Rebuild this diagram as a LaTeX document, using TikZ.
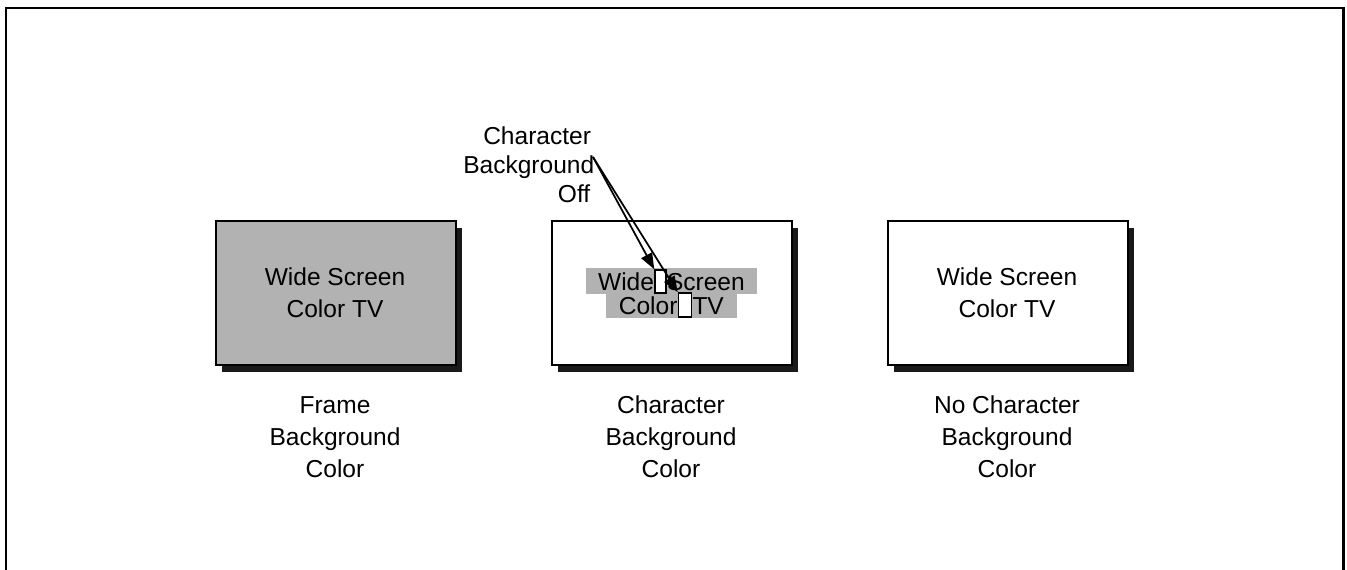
\documentclass[tikz,border=0pt]{standalone}
\usepackage{fontspec}
\setmainfont{Liberation Sans}
\usetikzlibrary{arrows.meta}
\begin{document}
\begin{tikzpicture}[x=0.75pt,y=-0.75pt,
  txt/.style={inner sep=0pt,font=\fontsize{18.4}{24}\selectfont,align=center},
  tvbox/.style={draw=black,line width=1.5pt,minimum width=240*0.75pt,minimum height=144*0.75pt,inner sep=0pt},
  tvshadow/.style={fill=black!90,draw=none,minimum width=240*0.75pt,minimum height=144*0.75pt,inner sep=0pt},
  hilite/.style={fill=black!30,draw=none,inner sep=0pt},
  gap/.style={fill=white,draw=black,line width=1.1pt,inner sep=0pt,minimum width=11*0.75pt,minimum height=23*0.75pt},
  pointer/.style={line width=1.3pt,-{Triangle[length=16*0.75pt,width=12*0.75pt]}}
]
\useasboundingbox (0,0) rectangle (1347,569);
% outer frame
\draw[line width=2.2pt] (6,570) -- (6,8) -- (1343.5,8) -- (1343.5,570);

% box 1
\node[tvshadow] (s1) at (341.5,299.5) {};
\node[tvbox,fill=black!30] (b1) at (335.5,293) {};
\node[txt] (t1) at (335,293) {Wide Screen\\Color TV};
\node[txt] (l1) at (335,437) {Frame\\Background\\Color};

% box 2
\node[tvshadow] (s2) at (677.5,299.5) {};
\node[tvbox,fill=white] (b2) at (671.5,293) {};
\node[hilite,minimum width=171*0.75pt,minimum height=26*0.75pt] (h1) at (671.5,281) {};
\node[hilite,minimum width=131*0.75pt,minimum height=24*0.75pt] (h2) at (671.5,306) {};
\node[gap] (r1) at (660.5,281.5) {};
\node[gap,minimum width=13*0.75pt,minimum height=24*0.75pt] (r2) at (685,305) {};
\node[txt,anchor=base east] (w1) at ([yshift=-9*0.75pt]r1.west) {Wide};
\node[txt,anchor=base west] (w2) at ([yshift=-9*0.75pt]r1.east) {Screen};
\node[txt,anchor=base east] (w3) at ([yshift=-9*0.75pt]r2.west) {Color};
\node[txt,anchor=base west] (w4) at ([yshift=-9*0.75pt]r2.east) {TV};
\node[txt] (l2) at (671,437) {Character\\Background\\Color};

% box 3
\node[tvshadow] (s3) at (1013.5,299.5) {};
\node[tvbox,fill=white] (b3) at (1007.5,293) {};
\node[txt] (t3) at (1007,293) {Wide Screen\\Color TV};
\node[txt] (l3) at (1007,437) {No Character\\Background\\Color};

% pointer label
\node[txt,align=left,anchor=north west,font=\fontsize{18.4}{22}\selectfont] (lbl) at (463,126)
  {\hspace*{15pt}Character\\Background\\\hspace*{71pt}Off};
\coordinate (src) at (593,157);
\draw[pointer] (src) -- (r1.north west);
\draw[pointer] (src) -- (r2.north west);
\end{tikzpicture}
\end{document}
